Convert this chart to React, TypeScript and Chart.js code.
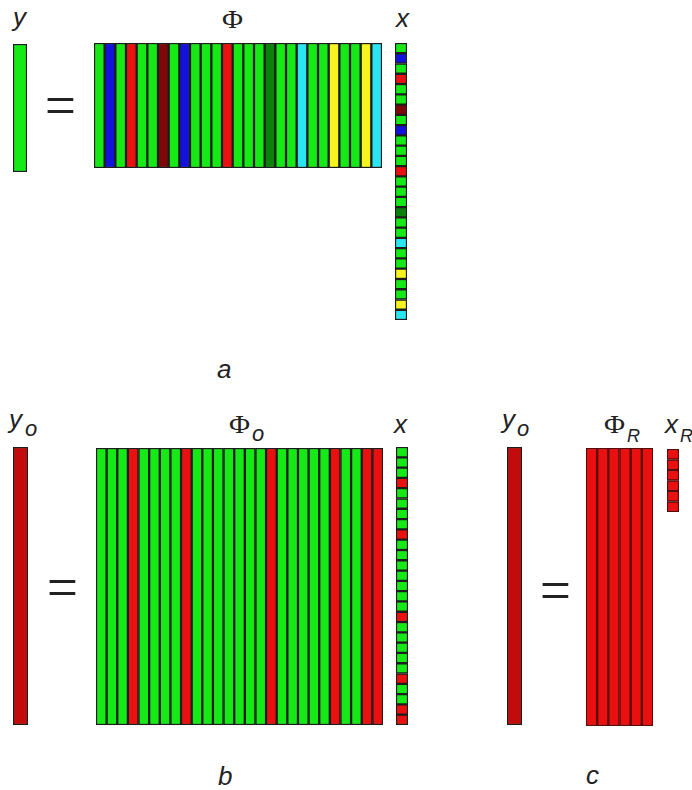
import React, { useEffect, useRef } from 'react';
import { Chart, registerables } from 'chart.js';

Chart.register(...registerables);

// ---- Data: colour category of every column / cell ----
// Panel a
const phiColumnsA = ['G', 'B', 'G', 'R', 'G', 'G', 'DR', 'G', 'B', 'G', 'G', 'G', 'R', 'G', 'G', 'G', 'DG', 'G', 'G', 'C', 'G', 'G', 'Y', 'G', 'G', 'Y', 'C'];
const xCellsA = ['G', 'B', 'G', 'R', 'G', 'G', 'DR', 'G', 'B', 'G', 'G', 'G', 'R', 'G', 'G', 'G', 'DG', 'G', 'G', 'C', 'G', 'G', 'Y', 'G', 'G', 'Y', 'C'];
const yCellsA = ['G'];
// Panel b
const phiColumnsB = ['G', 'G', 'G', 'R', 'G', 'G', 'G', 'G', 'R', 'G', 'G', 'G', 'G', 'G', 'G', 'G', 'R', 'G', 'G', 'G', 'G', 'G', 'R', 'G', 'G', 'R', 'R'];
const xCellsB = ['G', 'G', 'G', 'R', 'G', 'G', 'G', 'G', 'R', 'G', 'G', 'G', 'G', 'G', 'G', 'G', 'R', 'G', 'G', 'G', 'G', 'G', 'R', 'G', 'G', 'R', 'R'];
const yCellsB = ['MR'];
// Panel c
const phiColumnsC = ['R', 'R', 'R', 'R', 'R', 'R'];
const xCellsC = ['R', 'R', 'R', 'R', 'R', 'R'];
const yCellsC = ['MR'];
// every cell has unit height in its matrix
const cellValue = 1;

const PALETTE: Record<string, string> = {
  G: '#16ea16',
  B: '#1212dc',
  R: '#ea1010',
  DR: '#7e0808',
  MR: '#c20c0c',
  DG: '#0a820a',
  C: '#2ae6f2',
  Y: '#f6f41e',
};

type MatrixProps = {
  cells: string[];
  horizontal?: boolean;
  left: number;
  top: number;
  width: number;
  height: number;
  border?: string;
};

function Matrix({ cells, horizontal, left, top, width, height, border = '#1c1c1c' }: MatrixProps) {
  const ref = useRef<HTMLCanvasElement>(null);
  useEffect(() => {
    const chart = new Chart(ref.current as HTMLCanvasElement, {
      type: 'bar',
      data: {
        labels: cells.map((_, i) => String(i + 1)),
        datasets: [
          {
            data: cells.map(() => cellValue),
            backgroundColor: cells.map((c) => PALETTE[c]),
            borderColor: border,
            borderWidth: 1.5,
            borderSkipped: false,
            categoryPercentage: 1,
            barPercentage: 1,
          },
        ],
      },
      options: {
        indexAxis: horizontal ? 'y' : 'x',
        responsive: false,
        animation: false,
        devicePixelRatio: 1,
        layout: { padding: 0 },
        plugins: {
          legend: { display: false },
          tooltip: { enabled: false },
          title: { display: false },
        },
        scales: horizontal
          ? {
              x: { type: 'linear', display: false, min: 0, max: cellValue },
              y: { type: 'category', display: false },
            }
          : {
              x: { type: 'category', display: false },
              y: { type: 'linear', display: false, min: 0, max: cellValue },
            },
      } as any,
    });
    return () => chart.destroy();
  }, []);
  return (
    <canvas
      ref={ref}
      width={width}
      height={height}
      style={{ position: 'absolute', left, top, width, height, display: 'block' }}
    />
  );
}

type TxtProps = {
  text: string;
  left: number;
  baseline: number;
  size: number;
  serif?: boolean;
  italic?: boolean;
  sx?: number;
  family?: string;
  weight?: number;
  k?: number;
};

function Txt({ text, left, baseline, size, serif, italic = true, sx = 1, family, weight = 400, k }: TxtProps) {
  const kk = k !== undefined ? k : serif ? 0.8375 : 0.8465;
  return (
    <div
      style={{
        position: 'absolute',
        left,
        top: baseline - kk * size,
        fontSize: size,
        lineHeight: `${size}px`,
        fontFamily: family || (serif ? '"Liberation Serif", serif' : '"Liberation Sans", Arial, sans-serif'),
        fontStyle: italic ? 'italic' : 'normal',
        fontWeight: weight,
        color: '#222',
        whiteSpace: 'nowrap',
        transform: `scaleX(${sx})`,
        transformOrigin: 'left',
      }}
    >
      {text}
    </div>
  );
}

function Eq({ left, baseline }: { left: number; baseline: number }) {
  return <Txt text="=" left={left} baseline={baseline} size={60} italic={false} family="Roboto, sans-serif" weight={300} k={0.8465} sx={1.05} />;
}

function Phi({ left, baseline }: { left: number; baseline: number }) {
  return <Txt text="Φ" left={left} baseline={baseline} size={25} serif italic={false} sx={1.15} />;
}

export default function App() {
  return (
    <div
      style={{
        position: 'absolute',
        left: 0,
        top: 0,
        width: 692,
        height: 790,
        background: '#fff',
        overflow: 'hidden',
      }}
    >
      {/* Panel a */}
      <Txt text="y" left={13} baseline={26} size={26} />
      <Matrix cells={yCellsA} left={13} top={44} width={14} height={128} />
      <Eq left={43} baseline={126} />
      <Phi left={222} baseline={28} />
      <Matrix cells={phiColumnsA} left={94} top={43} width={288} height={125} />
      <Txt text="x" left={396} baseline={27} size={26} />
      <Matrix cells={xCellsA} horizontal left={395} top={43} width={12} height={277} />
      <Txt text="a" left={217} baseline={378} size={26} />

      {/* Panel b */}
      <Txt text="y" left={9} baseline={428} size={26} />
      <Txt text="o" left={25} baseline={437} size={22} />
      <Matrix cells={yCellsB} left={13} top={447} width={15} height={278} />
      <Eq left={45} baseline={608} />
      <Phi left={229} baseline={433} />
      <Txt text="o" left={252} baseline={442} size={22} />
      <Matrix cells={phiColumnsB} left={96} top={448} width={287} height={277} />
      <Txt text="x" left={394} baseline={433} size={26} />
      <Matrix cells={xCellsB} horizontal left={396} top={447} width={12} height={278} />
      <Txt text="b" left={218} baseline={785} size={26} />

      {/* Panel c */}
      <Txt text="y" left={502} baseline={428} size={26} />
      <Txt text="o" left={517} baseline={437} size={22} />
      <Matrix cells={yCellsC} left={507} top={447} width={15} height={278} />
      <Eq left={538} baseline={611} />
      <Phi left={604} baseline={433} />
      <Txt text="R" left={627} baseline={442} size={18} />
      <Matrix cells={phiColumnsC} left={586} top={448} width={67} height={278} border="#5a0a0a" />
      <Txt text="x" left={665} baseline={433} size={26} />
      <Txt text="R" left={680} baseline={442} size={18} />
      <Matrix cells={xCellsC} horizontal left={667} top={449} width={12} height={63} border="#5a0a0a" />
      <Txt text="c" left={586} baseline={784} size={26} />
    </div>
  );
}
